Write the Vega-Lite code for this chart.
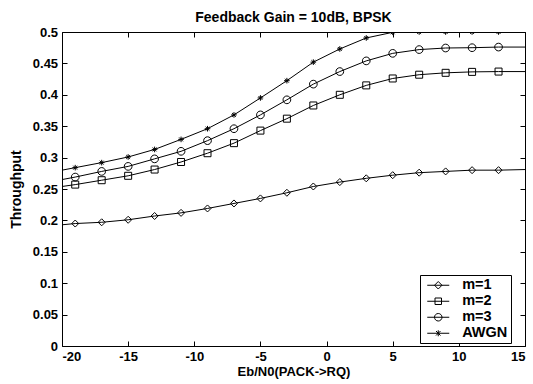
{
  "$schema": "https://vega.github.io/schema/vega-lite/v6.json",
  "autosize": "none",
  "width": 463,
  "height": 314,
  "padding": {"left": 62, "top": 32, "right": 8, "bottom": 38},
  "background": "white",
  "config": {
    "font": "Liberation Sans",
    "view": {"stroke": "black", "strokeWidth": 1},
    "axis": {"grid": false, "domain": false, "tickColor": "black", "labelColor": "black", "titleColor": "black", "labelFontSize": 13, "labelFontWeight": "bold", "titleFontSize": 13, "titleFontWeight": "bold", "tickSize": -5, "tickWidth": 1},
    "title": {"fontSize": 14, "fontWeight": "bold", "color": "black"}
  },
  "title": {"text": "Feedback Gain = 10dB, BPSK", "offset": 1},
  "data": {"values": [
    {"series": "m=1", "x": -20, "y": 0.193},
    {"series": "m=1", "x": -19, "y": 0.195},
    {"series": "m=1", "x": -17, "y": 0.197},
    {"series": "m=1", "x": -15, "y": 0.201},
    {"series": "m=1", "x": -13, "y": 0.207},
    {"series": "m=1", "x": -11, "y": 0.212},
    {"series": "m=1", "x": -9, "y": 0.219},
    {"series": "m=1", "x": -7, "y": 0.227},
    {"series": "m=1", "x": -5, "y": 0.235},
    {"series": "m=1", "x": -3, "y": 0.244},
    {"series": "m=1", "x": -1, "y": 0.254},
    {"series": "m=1", "x": 1, "y": 0.261},
    {"series": "m=1", "x": 3, "y": 0.267},
    {"series": "m=1", "x": 5, "y": 0.272},
    {"series": "m=1", "x": 7, "y": 0.276},
    {"series": "m=1", "x": 9, "y": 0.278},
    {"series": "m=1", "x": 11, "y": 0.28},
    {"series": "m=1", "x": 13, "y": 0.28},
    {"series": "m=1", "x": 15, "y": 0.281},
    {"series": "m=2", "x": -20, "y": 0.254},
    {"series": "m=2", "x": -19, "y": 0.257},
    {"series": "m=2", "x": -17, "y": 0.264},
    {"series": "m=2", "x": -15, "y": 0.271},
    {"series": "m=2", "x": -13, "y": 0.281},
    {"series": "m=2", "x": -11, "y": 0.293},
    {"series": "m=2", "x": -9, "y": 0.307},
    {"series": "m=2", "x": -7, "y": 0.323},
    {"series": "m=2", "x": -5, "y": 0.343},
    {"series": "m=2", "x": -3, "y": 0.362},
    {"series": "m=2", "x": -1, "y": 0.383},
    {"series": "m=2", "x": 1, "y": 0.4},
    {"series": "m=2", "x": 3, "y": 0.415},
    {"series": "m=2", "x": 5, "y": 0.426},
    {"series": "m=2", "x": 7, "y": 0.432},
    {"series": "m=2", "x": 9, "y": 0.435},
    {"series": "m=2", "x": 11, "y": 0.4365},
    {"series": "m=2", "x": 13, "y": 0.437},
    {"series": "m=2", "x": 15, "y": 0.437},
    {"series": "m=3", "x": -20, "y": 0.265},
    {"series": "m=3", "x": -19, "y": 0.269},
    {"series": "m=3", "x": -17, "y": 0.278},
    {"series": "m=3", "x": -15, "y": 0.286},
    {"series": "m=3", "x": -13, "y": 0.298},
    {"series": "m=3", "x": -11, "y": 0.31},
    {"series": "m=3", "x": -9, "y": 0.327},
    {"series": "m=3", "x": -7, "y": 0.346},
    {"series": "m=3", "x": -5, "y": 0.368},
    {"series": "m=3", "x": -3, "y": 0.392},
    {"series": "m=3", "x": -1, "y": 0.417},
    {"series": "m=3", "x": 1, "y": 0.437},
    {"series": "m=3", "x": 3, "y": 0.454},
    {"series": "m=3", "x": 5, "y": 0.466},
    {"series": "m=3", "x": 7, "y": 0.472},
    {"series": "m=3", "x": 9, "y": 0.4745},
    {"series": "m=3", "x": 11, "y": 0.475},
    {"series": "m=3", "x": 13, "y": 0.476},
    {"series": "m=3", "x": 15, "y": 0.476},
    {"series": "AWGN", "x": -20, "y": 0.28},
    {"series": "AWGN", "x": -19, "y": 0.284},
    {"series": "AWGN", "x": -17, "y": 0.292},
    {"series": "AWGN", "x": -15, "y": 0.301},
    {"series": "AWGN", "x": -13, "y": 0.313},
    {"series": "AWGN", "x": -11, "y": 0.329},
    {"series": "AWGN", "x": -9, "y": 0.346},
    {"series": "AWGN", "x": -7, "y": 0.368},
    {"series": "AWGN", "x": -5, "y": 0.395},
    {"series": "AWGN", "x": -3, "y": 0.4225},
    {"series": "AWGN", "x": -1, "y": 0.452},
    {"series": "AWGN", "x": 1, "y": 0.473},
    {"series": "AWGN", "x": 3, "y": 0.4905},
    {"series": "AWGN", "x": 5, "y": 0.4995},
    {"series": "AWGN", "x": 7, "y": 0.5},
    {"series": "AWGN", "x": 9, "y": 0.5},
    {"series": "AWGN", "x": 11, "y": 0.5},
    {"series": "AWGN", "x": 13, "y": 0.5},
    {"series": "AWGN", "x": 15, "y": 0.5}
  ]},
  "layer": [
    {
      "mark": {"type": "line", "stroke": "black", "strokeWidth": 1, "clip": true},
      "encoding": {
        "x": {"field": "x", "type": "quantitative", "scale": {"domain": [-20, 15], "nice": false, "zero": false},
          "axis": {"orient": "bottom", "values": [-20, -15, -10, -5, 0, 5, 10, 15], "labelExpr": "replace(datum.label, '\u2212', '-')", "title": "Eb/N0(PACK->RQ)", "labelPadding": 9, "titlePadding": 2.5}},
        "y": {"field": "y", "type": "quantitative", "scale": {"domain": [0, 0.5], "nice": false},
          "axis": {"orient": "left", "values": [0, 0.05, 0.1, 0.15, 0.2, 0.25, 0.3, 0.35, 0.4, 0.45, 0.5], "format": ".2~f", "title": "Throughput", "titleFontSize": 14, "labelPadding": 9.4, "titlePadding": 9}},
        "detail": {"field": "series"}
      }
    },
    {
      "transform": [{"filter": "datum.x > -20 && datum.x < 15"}],
      "mark": {"type": "point", "filled": false, "stroke": "black", "strokeWidth": 1, "size": 49, "opacity": 1, "clip": true},
      "encoding": {
        "x": {"field": "x", "type": "quantitative",
          "axis": {"orient": "top", "values": [-20, -15, -10, -5, 0, 5, 10, 15], "labels": false, "title": null}},
        "y": {"field": "y", "type": "quantitative",
          "axis": {"orient": "right", "values": [0, 0.05, 0.1, 0.15, 0.2, 0.25, 0.3, 0.35, 0.4, 0.45, 0.5], "labels": false, "title": null}},
        "shape": {"field": "series", "type": "nominal",
          "scale": {"domain": ["m=1", "m=2", "m=3", "AWGN"], "range": ["diamond", "square", "M1.1,0A1.1,1.1 0 1,1 -1.1,0A1.1,1.1 0 1,1 1.1,0", "M-0.8,0H0.8M0,-0.8V0.8M-0.55,-0.55L0.55,0.55M-0.55,0.55L0.55,-0.55"]},
          "legend": null
        }
      }
    },
    {
      "transform": [{"filter": "datum.x == 13"}],
      "mark": {"type": "point", "filled": false, "stroke": "black", "strokeWidth": 1, "size": 100, "opacity": 0, "clip": true},
      "encoding": {
        "x": {"field": "x", "type": "quantitative", "axis": null},
        "y": {"field": "y", "type": "quantitative", "axis": null},
        "shape": {"field": "series", "type": "nominal",
          "scale": {"domain": ["m=1", "m=2", "m=3", "AWGN"], "range": [
            "M-0.6,0H3.8M1.6,-0.75L2.35,0L1.6,0.75L0.85,0Z",
            "M-0.6,0H3.8M0.95,-0.65H2.25V0.65H0.95Z",
            "M-0.6,0H3.8M2.35,0A0.75,0.75 0 1,1 0.85,0A0.75,0.75 0 1,1 2.35,0",
            "M-0.6,0H3.8M1.6,-0.6V0.6M1.15,-0.45L2.05,0.45M1.15,0.45L2.05,-0.45"]},
          "legend": {
            "title": null, "orient": "none", "legendX": 358, "legendY": 243,
            "strokeColor": "black", "fillColor": "white", "padding": 3, "cornerRadius": 0,
            "labelFontSize": 14.5, "labelFontWeight": "bold", "labelColor": "black", "symbolSize": 100, "rowPadding": 1, "labelOffset": 24.7,
            "symbolStrokeColor": "black", "symbolStrokeWidth": 1, "symbolFillColor": "transparent", "symbolOpacity": 1
          }
        }
      }
    }
  ],
  "resolve": {"axis": {"x": "independent", "y": "independent"}, "scale": {"shape": "independent"}}
}
